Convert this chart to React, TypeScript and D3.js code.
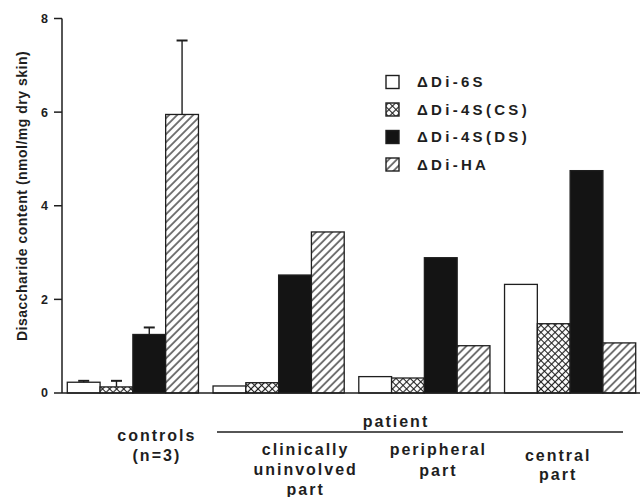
import React from 'react';
import * as d3 from 'd3';

const groups = ['controls', 'clinically uninvolved part', 'peripheral part', 'central part'];
const groupLabels = [
  ['controls', '(n=3)'],
  ['clinically', 'uninvolved', 'part'],
  ['peripheral', 'part'],
  ['central', 'part'],
];
const seriesNames = ['ΔDi-6S', 'ΔDi-4S(CS)', 'ΔDi-4S(DS)', 'ΔDi-HA'];
const di6S = [0.23, 0.15, 0.35, 2.32];
const di4SCS = [0.13, 0.22, 0.32, 1.48];
const di4SDS = [1.25, 2.52, 2.89, 4.75];
const diHA = [5.95, 3.44, 1.01, 1.07];
// SD only reported for controls
const controlsSD = [0.03, 0.13, 0.15, 1.58];
const yTicks = [0, 2, 4, 6, 8];

const FONT = '"Liberation Sans", Arial, Helvetica, sans-serif';
const INK = '#1e1e1e';

const App = () => {
  const width = 642;
  const height = 497;

  const x = d3.scaleBand<string>()
    .domain(groups)
    .range([60, 643])
    .paddingInner(0.1)
    .paddingOuter(0.05);

  const xs = d3.scaleBand<string>()
    .domain(seriesNames)
    .range([0, x.bandwidth()]);

  const y = d3.scaleLinear().domain([0, 8]).range([393, 18.5]);

  const series = [di6S, di4SCS, di4SDS, diHA];
  const fills = ['#fff', 'url(#cross)', '#141414', 'url(#hatch)'];

  const bars = groups.flatMap((g, gi) =>
    seriesNames.map((s, si) => ({
      g, s, gi, si,
      value: series[si][gi],
      sd: gi === 0 ? controlsSD[si] : null,
    }))
  );

  // label centres sit a bit off the group centres in the original
  const labelShift = [23, 26, 13, -13];
  const labelLines = [[441, 461], [455, 475, 495], [455, 476], [461, 480]];

  const axisX = 62;

  return (
    <svg width={width} height={height} style={{ position: 'absolute', left: 0, top: 0, background: '#fff' }}>
      <defs>
        <pattern id="cross" width={5} height={5} patternUnits="userSpaceOnUse" patternTransform="rotate(45)">
          <rect width={5} height={5} fill="#fff" />
          <path d="M0,2.5H5M2.5,0V5" stroke={INK} strokeWidth={1.2} />
        </pattern>
        <pattern id="hatch" width={5.66} height={10} patternUnits="userSpaceOnUse" patternTransform="rotate(45)">
          <rect width={5.66} height={10} fill="#fff" />
          <path d="M2.83,0V10" stroke={INK} strokeWidth={1.2} />
        </pattern>
      </defs>

      {/* bars */}
      {bars.map(d => {
        const bx = (x(d.g) as number) + (xs(d.s) as number);
        return (
          <rect key={d.g + d.s}
            x={bx} y={y(d.value)}
            width={xs.bandwidth()} height={y(0) - y(d.value)}
            fill={fills[d.si]} stroke={INK} strokeWidth={1.3} />
        );
      })}

      {/* error bars */}
      {bars.filter(d => d.sd != null).map(d => {
        const cx = (x(d.g) as number) + (xs(d.s) as number) + xs.bandwidth() / 2;
        const top = y(d.value + (d.sd as number));
        return (
          <g key={'e' + d.s} stroke={INK} strokeWidth={1.4}>
            <line x1={cx} x2={cx} y1={y(d.value)} y2={top} />
            <line x1={cx - 5.5} x2={cx + 5.5} y1={top} y2={top} strokeWidth={2} />
          </g>
        );
      })}

      {/* axes */}
      <line x1={axisX} x2={640} y1={y(0)} y2={y(0)} stroke={INK} strokeWidth={1.5} />
      <line x1={axisX} x2={axisX} y1={y(8)} y2={y(0)} stroke={INK} strokeWidth={1.5} />
      {yTicks.map(t => (
        <g key={t}>
          <line x1={axisX - 8} x2={axisX} y1={y(t)} y2={y(t)} stroke={INK} strokeWidth={1.5} />
          <text x={48} y={y(t)} dy="0.35em" textAnchor="end"
            style={{ fontFamily: FONT, fontSize: 12.5, fontWeight: 'bold', fill: INK }}>{t}</text>
        </g>
      ))}
      <text transform="translate(26.5,196) rotate(-90)" textAnchor="middle"
        style={{ fontFamily: FONT, fontSize: 14, fontWeight: 'bold', fill: INK, letterSpacing: 0.5 }}>
        Disaccharide content (nmol/mg dry skin)
      </text>

      {/* legend */}
      {seriesNames.map((s, i) => {
        const cy = 82 + i * 27.5;
        return (
          <g key={s}>
            <rect x={386} y={cy - 6.5} width={13} height={13} fill={fills[i]} stroke={INK} strokeWidth={1.4} />
            <text x={417} y={cy} dy="0.35em"
              style={{ fontFamily: FONT, fontSize: 15, fontWeight: 'bold', fill: INK, letterSpacing: 3.3 }}>{s}</text>
          </g>
        );
      })}

      {/* category labels */}
      {groups.map((g, gi) => {
        const cx = (x(g) as number) + x.bandwidth() / 2 + labelShift[gi];
        return groupLabels[gi].map((line, li) => (
          <text key={g + li} x={cx + 1} y={labelLines[gi][li]} textAnchor="middle"
            style={{ fontFamily: FONT, fontSize: 16, fontWeight: 'bold', fill: INK, letterSpacing: 2 }}>{line}</text>
        ));
      })}

      {/* patient bracket */}
      <line x1={217} x2={623} y1={432} y2={432} stroke={INK} strokeWidth={1.5} />
      <text x={396} y={427} textAnchor="middle"
        style={{ fontFamily: FONT, fontSize: 16, fontWeight: 'bold', fill: INK, letterSpacing: 2 }}>patient</text>
    </svg>
  );
};

export default App;
